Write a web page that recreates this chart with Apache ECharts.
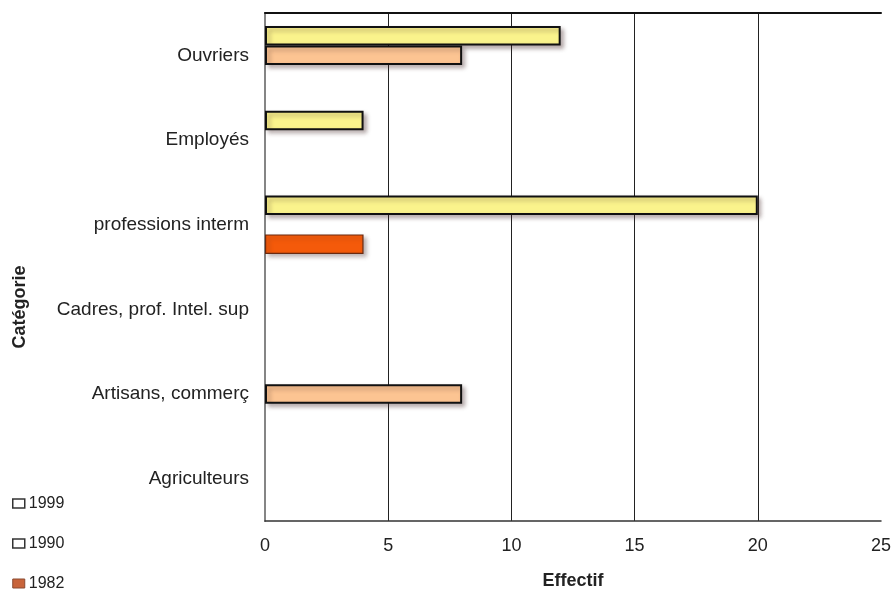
<!DOCTYPE html>
<html>
<head>
<meta charset="utf-8">
<script src="https://cdn.jsdelivr.net/npm/echarts@6/dist/echarts.min.js"></script>
<style>
  html, body { margin: 0; padding: 0; background: #fff; }
  #chart { width: 894px; height: 590px; }
</style>
</head>
<body>
<div id="chart"></div>
<script>
// Catégories, du bas vers le haut de l'axe
const categories = ['Agriculteurs', 'Artisans, commerç', 'Cadres, prof. Intel. sup', 'professions interm', 'Employés', 'Ouvriers'];
// Effectifs par année ('-' = aucune barre)
const values1999 = ['-', '-', '-', 20, 4, 12];
const values1990 = ['-', 8, '-', '-', '-', 8];
const values1982 = ['-', '-', '-', 4, '-', '-'];
const xTicks = [0, 5, 10, 15, 20, 25];

const font = 'Liberation Sans, Arial, sans-serif';
const shadow = { shadowBlur: 4, shadowOffsetX: 3, shadowOffsetY: 3, shadowColor: 'rgba(70,40,40,0.35)' };
const plainIcon = { color: '#fff', borderColor: '#333', borderWidth: 1.5, shadowBlur: 0, shadowOffsetX: 0, shadowOffsetY: 0 };

const chart = echarts.init(document.getElementById('chart'), null, { renderer: 'canvas' });

chart.setOption({
  animation: false,
  backgroundColor: '#fff',
  grid: { left: 265, right: 13, top: 13, bottom: 69, containLabel: false, outerBoundsMode: 'none' },
  legend: {
    orient: 'vertical',
    left: 12,
    top: 495,
    height: 100,
    padding: 0,
    itemWidth: 12,
    itemHeight: 9,
    itemGap: 23,
    textStyle: { fontFamily: font, fontSize: 16, lineHeight: 17, color: '#222', padding: [0, 0, 0, -1] },
    data: [
      { name: '1999', icon: 'rect', itemStyle: plainIcon },
      { name: '1990', icon: 'rect', itemStyle: plainIcon },
      { name: '1982', icon: 'rect', itemStyle: { color: '#c8643a', borderColor: '#8a4a30', borderWidth: 1, shadowBlur: 0, shadowOffsetX: 0, shadowOffsetY: 0 } }
    ]
  },
  xAxis: [
    {
      type: 'value',
      position: 'bottom',
      min: xTicks[0],
      max: xTicks[xTicks.length - 1],
      interval: 5,
      name: 'Effectif',
      nameLocation: 'middle',
      nameGap: 51,
      nameTextStyle: { fontFamily: font, fontSize: 18, fontWeight: 'bold', color: '#222' },
      axisLine: { show: true, lineStyle: { color: '#333', width: 1.5 } },
      axisTick: { show: false },
      axisLabel: { margin: 16, fontFamily: font, fontSize: 18, color: '#222' },
      splitLine: { show: true, showMinLine: false, showMaxLine: false, lineStyle: { color: '#222', width: 1 } }
    },
    {
      type: 'value',
      position: 'top',
      min: xTicks[0],
      max: xTicks[xTicks.length - 1],
      interval: 5,
      axisLine: { show: true, lineStyle: { color: '#111', width: 2 } },
      axisTick: { show: false },
      axisLabel: { show: false },
      splitLine: { show: false }
    }
  ],
  yAxis: [
    {
      type: 'category',
      data: categories,
      position: 'left',
      name: 'Catégorie',
      nameLocation: 'middle',
      nameRotate: 90,
      nameGap: 236,
      nameTextStyle: { fontFamily: font, fontSize: 18, fontWeight: 'bold', color: '#222', padding: [0, 80, 0, 0] },
      axisLine: { show: true, lineStyle: { color: '#111', width: 1.5 } },
      axisTick: { show: false },
      axisLabel: { margin: 16, fontFamily: font, fontSize: 19, color: '#222' },
      splitLine: { show: false }
    },
    {
      type: 'category',
      data: categories,
      position: 'right',
      axisLine: { show: true, lineStyle: { color: '#999', width: 1.5 } },
      axisTick: { show: false },
      axisLabel: { show: false },
      splitLine: { show: false }
    }
  ],
  // Dans chaque bande, la première série est dessinée en haut
  series: [
    {
      name: '1999',
      type: 'bar',
      data: values1999,
      barWidth: 19.5,
      barGap: '0%',
      barCategoryGap: '31%',
      itemStyle: Object.assign({ color: '#faf38c', borderColor: '#111', borderWidth: 2 }, shadow)
    },
    {
      name: '1990',
      type: 'bar',
      data: values1990,
      barWidth: 19.5,
      barGap: '0%',
      itemStyle: Object.assign({ color: '#fcc492', borderColor: '#111', borderWidth: 2 }, shadow)
    },
    {
      name: '1982',
      type: 'bar',
      data: values1982,
      barWidth: 19.5,
      barGap: '0%',
      itemStyle: Object.assign({ color: '#f45a0a', borderColor: '#6a2a10', borderWidth: 1.2 }, shadow)
    }
  ]
});
</script>
</body>
</html>
